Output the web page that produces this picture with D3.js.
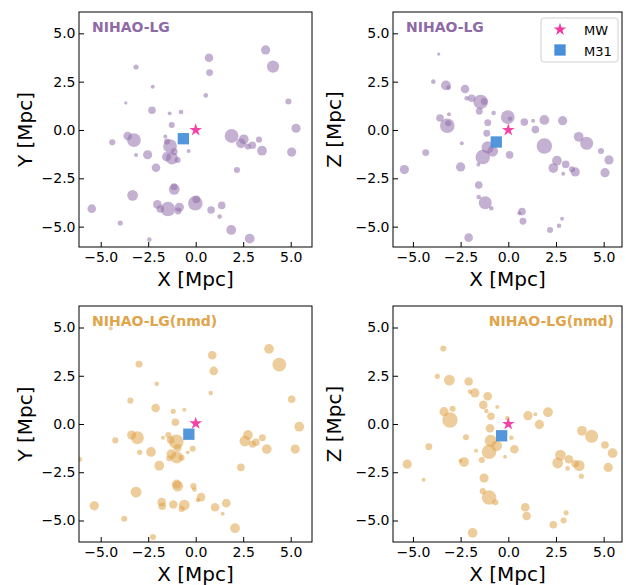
<!DOCTYPE html>
<html><head><meta charset="utf-8">
<script src="https://cdn.jsdelivr.net/npm/d3@7"></script>
<style>
body{margin:0;background:#fff;}
svg{display:block;font-family:"DejaVu Sans",sans-serif;}
</style></head>
<body>
<svg id="c" width="626" height="585"></svg>
<script>
// ---------- data ----------
const tickValues = [-5, -2.5, 0, 2.5, 5];
const titles = ["NIHAO-LG", "NIHAO-LG", "NIHAO-LG(nmd)", "NIHAO-LG(nmd)"];
const yLabels = ["Y", "Z", "Y", "Z"];
const legendLabels = ["MW", "M31"];

// NIHAO-LG, X-Y
const lgXY_x = [3.68,4.07,0.70,0.73,-3.14,-2.26,0.53,-3.68,4.88,-2.30,-1.37,-0.77,-1.26,5.28,1.89,2.53,2.38,3.33,2.98,2.74,3.49,5.05,-3.58,-3.25,-4.39,-3.14,-2.53,-1.60,-1.51,-1.35,-1.13,-1.53,-1.25,-0.95,-0.37,-2.09,2.17,-1.14,-1.13,-3.32,-5.47,-2.02,-1.86,-1.46,-0.86,-0.93,-0.02,0.03,0.81,1.37,1.26,-3.97,1.87,2.84,-2.44];
const lgXY_y = [4.14,3.28,3.74,2.97,3.26,2.24,1.79,1.40,1.47,1.02,0.86,0.93,0.26,0.09,-0.31,-0.48,-0.69,-0.50,-0.79,-0.86,-1.07,-1.14,-0.31,-0.52,-0.64,-1.29,-1.28,-0.34,-0.60,-0.83,-1.12,-1.38,-1.47,-1.55,-1.09,-1.95,-2.07,-2.93,-3.07,-3.38,-4.07,-3.85,-4.09,-4.09,-4.00,-4.19,-3.79,-3.59,-4.14,-3.90,-4.48,-4.81,-5.17,-5.62,-5.67];
const lgXY_m = [16,28,14,9,5,3,4,2,7,11,3,4,7,16,36,18,18,7,11,7,18,16,14,36,7,3,16,3,7,36,9,16,28,7,3,14,7,9,22,22,14,14,11,40,16,9,40,11,11,11,4,5,18,18,4];

// NIHAO-LG, X-Z
const lgXZ_x = [-3.65,-3.93,-3.27,-3.13,-2.27,-2.18,-1.92,-1.45,-1.26,-1.52,-0.77,-3.58,-3.11,-3.20,-3.15,-1.08,-0.03,0.09,0.84,1.30,1.89,2.85,1.42,-1.13,3.69,4.11,1.89,4.86,5.28,5.07,-2.44,-4.33,-1.08,-0.82,-1.34,0.07,-1.57,-2.50,-5.45,2.55,2.36,3.01,3.34,3.51,2.88,-1.55,-1.55,-1.21,-0.89,0.72,0.58,0.77,2.82,2.66,2.19,-2.08];
const lgXZ_z = [3.93,2.50,2.31,2.19,2.12,1.64,1.64,1.45,1.48,0.97,0.88,0.62,0.81,0.22,0.35,0.38,0.67,0.58,0.41,0.48,0.52,0.48,0.02,-0.17,-0.35,-0.69,-0.83,-1.09,-1.55,-2.21,-0.69,-1.17,-0.90,-1.10,-1.40,-1.29,-1.79,-1.91,-2.05,-1.59,-1.97,-1.78,-2.03,-2.17,-2.26,-2.85,-3.47,-3.76,-4.05,-4.22,-4.31,-4.72,-4.59,-4.95,-5.17,-5.57];
const lgXZ_m = [2,4,18,4,14,4,11,40,9,9,4,11,3,40,7,9,36,4,11,3,18,16,11,9,18,32,45,7,16,16,3,9,28,22,40,11,3,16,16,18,18,11,7,16,3,11,4,32,4,11,3,9,3,4,7,14];

// NIHAO-LG(nmd), X-Y
const nmdXY_x = [3.86,4.40,0.87,0.95,-2.98,-2.05,0.79,-3.44,5.05,-2.11,-1.18,-0.60,-1.07,5.45,2.75,2.59,3.51,3.17,2.98,3.74,5.24,-3.37,-3.07,-4.23,-2.95,-2.35,-1.72,-1.44,-1.02,-1.32,-0.95,-1.28,-1.00,-0.74,-0.16,-0.42,-1.39,-1.92,2.38,-0.95,-1.00,-3.14,-0.12,-0.07,0.28,0.12,-1.79,-1.76,-1.18,-0.60,-0.74,-5.34,1.02,1.61,1.42,-3.76,2.07,-2.25,-6.12,-4.47];
const nmdXY_y = [3.89,3.08,3.56,2.75,3.10,2.08,1.61,1.21,1.28,0.83,0.66,0.74,0.09,-0.14,-0.57,-0.88,-0.71,-0.95,-1.05,-1.30,-1.30,-0.57,-0.71,-0.85,-1.47,-1.45,-0.71,-0.57,-0.92,-0.83,-1.23,-1.56,-1.73,-1.75,-1.28,-1.47,-1.78,-2.16,-2.25,-3.22,-3.12,-3.53,-3.22,-3.39,-3.79,-3.94,-4.05,-4.26,-4.17,-4.20,-4.40,-4.24,-4.31,-4.10,-4.65,-4.91,-5.40,-5.86,-1.83,4.95];
const nmdXY_m = [18,36,14,14,9,4,4,7,11,14,5,3,11,18,18,22,9,11,9,18,16,16,32,7,5,18,3,7,40,11,11,18,28,7,7,3,7,18,11,22,16,22,7,4,14,4,14,11,14,22,7,16,14,14,3,7,18,7,5,3];

// NIHAO-LG(nmd), X-Z
const nmdXZ_x = [-3.41,-3.72,-3.09,-2.08,-2.01,-1.75,-1.08,-1.31,-0.58,-1.15,-3.37,-2.92,-3.06,-0.91,-0.05,1.03,1.42,2.08,1.63,-0.96,0.16,3.86,4.37,5.07,5.47,5.24,-2.22,-4.17,-0.92,-0.61,-1.01,0.32,-1.69,-0.17,-1.39,-2.32,-2.50,-5.30,2.73,2.59,3.18,3.51,3.72,3.11,3.83,-4.44,-1.27,-1.34,-1.01,-0.68,0.89,0.96,3.03,2.90,2.36,-1.87,-6.20];
const nmdXZ_z = [3.91,2.47,2.27,2.20,1.68,1.61,1.44,0.99,0.88,0.67,0.64,0.79,0.21,0.40,0.30,0.43,0.50,0.61,-0.02,-0.22,-0.71,-0.35,-0.64,-1.09,-1.51,-2.25,-0.69,-1.18,-0.87,-1.13,-1.44,-1.31,-1.38,-1.70,-1.87,-1.97,-1.90,-2.08,-1.61,-2.02,-1.83,-2.06,-2.16,-2.30,-2.71,-2.89,-2.80,-3.48,-3.81,-4.06,-4.31,-4.77,-4.60,-5.00,-5.22,-5.64,-1.44];
const nmdXZ_m = [7,5,22,14,4,16,14,14,3,4,16,7,45,11,4,16,3,18,16,14,4,18,32,11,18,16,7,9,28,22,40,14,3,3,7,18,3,16,22,22,14,11,22,4,5,3,16,7,40,7,14,14,5,7,11,18,5];

// MW and M31 positions in each panel
const mwX = [0, 0, 0, 0];
const mwY = [0, 0, 0.03, 0];
const m31X = [-0.65, -0.63, -0.36, -0.35];
const m31Y = [-0.45, -0.62, -0.53, -0.61];

// ---------- layout ----------
const svg = d3.select("#c");
const panels = [
  {x: lgXY_x, y: lgXY_y, m: lgXY_m, color: "#8e6aa6", op: 0.52, box: [79, 312, 12, 247], xd: [-6.142, 6.121], yd: [-6.053, 6.104], titleAnchor: "start", ylabX: 31.5},
  {x: lgXZ_x, y: lgXZ_z, m: lgXZ_m, color: "#8e6aa6", op: 0.52, box: [393, 622, 12, 247], xd: [-6.046, 5.962], yd: [-6.053, 6.104], titleAnchor: "start", ylabX: 340.5},
  {x: nmdXY_x, y: nmdXY_y, m: nmdXY_m, color: "#e0a44a", op: 0.55, box: [79, 312, 306, 542], xd: [-6.142, 6.121], yd: [-6.114, 6.114], titleAnchor: "start", ylabX: 31.5},
  {x: nmdXZ_x, y: nmdXZ_z, m: nmdXZ_m, color: "#e0a44a", op: 0.55, box: [393, 622, 306, 542], xd: [-6.046, 5.962], yd: [-6.114, 6.114], titleAnchor: "end", ylabX: 340.5}
];
const rScale = d3.scaleSqrt().domain([0, 100]).range([0, 11.5]);
const fmt = d3.format(".1f");
const starColor = "#f5389f", sqColor = "#4a90d9";
const star = d3.symbol().type(d3.symbolStar).size(50);
const square = d3.symbol().type(d3.symbolSquare).size(128);

panels.forEach((p, i) => {
  const [L, R, T, B] = p.box;
  const xs = d3.scaleLinear().domain(p.xd).range([L, R]);
  const ys = d3.scaleLinear().domain(p.yd).range([B, T]);
  const g = svg.append("g");
  const cid = "clip" + i;
  svg.append("clipPath").attr("id", cid).append("rect").attr("x", L).attr("y", T).attr("width", R - L).attr("height", B - T);
  const pg = g.append("g").attr("clip-path", `url(#${cid})`);
  pg.selectAll("circle").data(p.x.map((d, k) => ({x: d, y: p.y[k], m: p.m[k]})))
    .join("circle")
    .attr("cx", d => xs(d.x)).attr("cy", d => ys(d.y)).attr("r", d => rScale(d.m))
    .attr("fill", p.color).attr("fill-opacity", p.op);
  pg.append("path").attr("d", square()).attr("transform", `translate(${xs(m31X[i])},${ys(m31Y[i])})`).attr("fill", sqColor).attr("fill-opacity", 0.95);
  pg.append("path").attr("d", star()).attr("transform", `translate(${xs(mwX[i])},${ys(mwY[i])})`).attr("fill", starColor).attr("fill-opacity", 0.95);

  // axes
  const xa = g.append("g").attr("transform", `translate(0,${B})`)
    .call(d3.axisBottom(xs).tickValues(tickValues).tickFormat(fmt).tickSizeInner(-5).tickSizeOuter(0).tickPadding(5));
  const ya = g.append("g").attr("transform", `translate(${L},0)`)
    .call(d3.axisLeft(ys).tickValues(tickValues).tickFormat(fmt).tickSizeInner(-5).tickSizeOuter(0).tickPadding(3.5));
  [xa, ya].forEach(a => {
    a.select(".domain").remove();
    a.selectAll("text").attr("font-size", 14).attr("font-family", "DejaVu Sans").attr("fill", "#000");
    a.selectAll("line").attr("stroke", "#000").attr("stroke-width", 1);
  });
  g.append("rect").attr("x", L).attr("y", T).attr("width", R - L).attr("height", B - T)
    .attr("fill", "none").attr("stroke", "#000").attr("stroke-width", 1);

  // labels
  g.append("text").attr("x", (L + R) / 2).attr("y", B + 39).attr("text-anchor", "middle")
    .attr("font-size", 20).text("X [Mpc]");
  g.append("text").attr("transform", `translate(${p.ylabX},${(T + B) / 2}) rotate(-90)`)
    .attr("text-anchor", "middle").attr("font-size", 20).text(yLabels[i] + " [Mpc]");
  g.append("text").attr("x", p.titleAnchor === "start" ? L + 13 : R - 8).attr("y", T + 20)
    .attr("text-anchor", p.titleAnchor).attr("font-size", 14).attr("font-weight", "bold")
    .attr("fill", p.color).text(titles[i]);

  if (i === 1) {
    const lg = g.append("g");
    lg.append("rect").attr("x", 541).attr("y", 18).attr("width", 77).attr("height", 44).attr("rx", 3)
      .attr("fill", "#fff").attr("fill-opacity", 0.8).attr("stroke", "#d0d0d0").attr("stroke-width", 1);
    lg.append("path").attr("d", star()).attr("transform", "translate(560,29.5)").attr("fill", starColor);
    lg.append("path").attr("d", square()).attr("transform", "translate(560,50)").attr("fill", sqColor);
    legendLabels.forEach((t, k) => {
      lg.append("text").attr("x", 584).attr("y", 35 + k * 20.7).attr("font-size", 13).attr("fill", "#000").text(t);
    });
  }
});
</script>
</body></html>
